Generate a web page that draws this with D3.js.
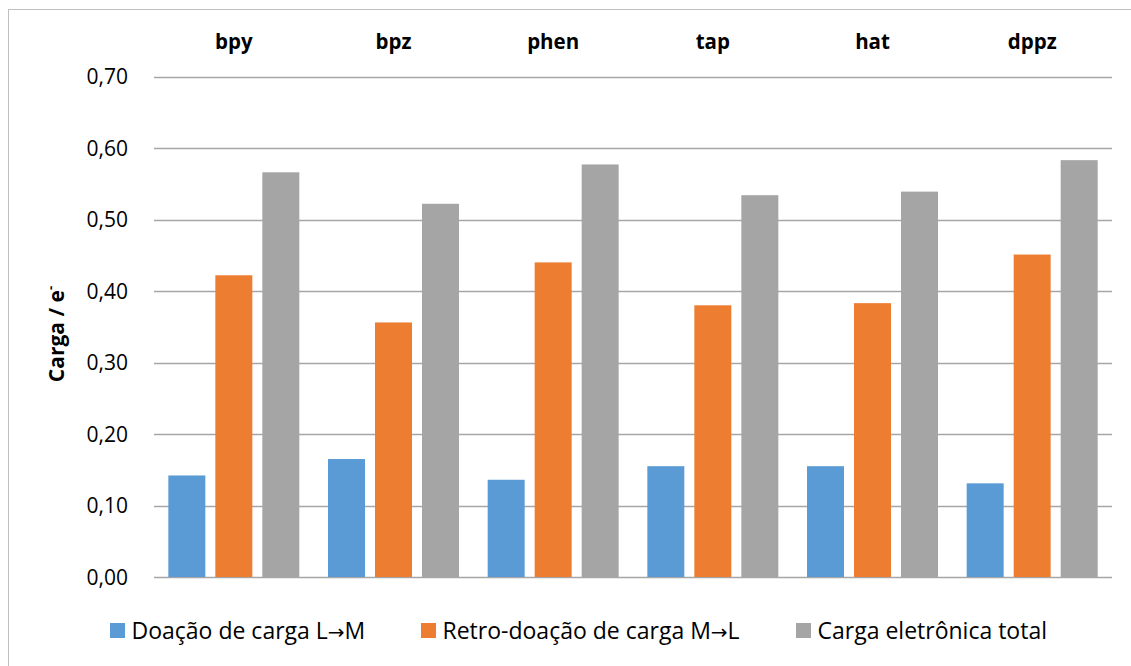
<!DOCTYPE html>
<html><head><meta charset="utf-8">
<script src="https://cdn.jsdelivr.net/npm/d3@7"></script>
<style>
html,body{margin:0;padding:0;background:#fff;}
svg{display:block;font-family:"Open Sans",sans-serif;}
</style></head>
<body><svg id="c" width="1131" height="666"></svg>
<script>
const categories = ["bpy","bpz","phen","tap","hat","dppz"];
const seriesNames = ["Doação de carga L→M","Retro-doação de carga M→L","Carga eletrônica total"];
const doacao = [0.142,0.165,0.136,0.155,0.155,0.131];
const retro = [0.422,0.356,0.440,0.380,0.383,0.451];
const total = [0.566,0.522,0.577,0.534,0.539,0.583];
const colors = ["#5b9bd5","#ed7d31","#a5a5a5"];
const yTicks = [0,0.1,0.2,0.3,0.4,0.5,0.6,0.7];

(function(){
const FONT = "'Open Sans',sans-serif";
const seriesVals = [doacao, retro, total];
const svg = d3.select("#c");
svg.append("rect").attr("x",8.5).attr("y",9.5).attr("width",1130).attr("height",670)
  .attr("fill","none").attr("stroke","#bfbfbf").attr("stroke-width",1);

const pL=154, pR=1112, pT=76.5, pB=577;
const x0 = d3.scaleBand().domain(categories).range([pL,pR]).padding(0);
const x1 = d3.scaleBand().domain(d3.range(3)).range([0,x0.bandwidth()]).paddingInner(0.213).paddingOuter(0.305);
const y = d3.scaleLinear().domain([0,0.7]).range([pB,pT]);
const fmt = d => d.toFixed(2).replace(".",",");

svg.append("g").selectAll("line").data(yTicks).join("line")
  .attr("x1",pL).attr("x2",pR)
  .attr("y1",d=>Math.round(y(d))+0.5).attr("y2",d=>Math.round(y(d))+0.5)
  .attr("stroke","#a6a6a6").attr("stroke-width",1.3);

const yAxis = svg.append("g").attr("transform",`translate(128,0)`)
  .call(d3.axisLeft(y).tickValues(yTicks).tickFormat(fmt).tickSize(0).tickPadding(0));
yAxis.select(".domain").remove();
yAxis.selectAll("text").attr("font-size",21).attr("fill","#000").attr("font-family",FONT).attr("dy","0.34em");

const g = svg.append("g").selectAll("g").data(categories).join("g")
  .attr("transform",d=>`translate(${x0(d)},0)`);
g.selectAll("rect").data((c,i)=>seriesVals.map((s,k)=>({k,v:s[i]}))).join("rect")
  .attr("x",d=>x1(d.k)).attr("width",x1.bandwidth())
  .attr("y",d=>y(d.v)).attr("height",d=>y(0)-y(d.v))
  .attr("fill",d=>colors[d.k]);

const xAxis = svg.append("g").attr("transform",`translate(0,48.5)`)
  .call(d3.axisTop(x0).tickSize(0).tickPadding(0));
xAxis.select(".domain").remove();
xAxis.selectAll("text").attr("font-size",20.5).attr("font-weight","bold").attr("fill","#000")
  .attr("font-family",FONT);

const yt = svg.append("text").attr("transform","translate(64,334) rotate(-90)")
  .attr("text-anchor","middle").attr("font-size",21).attr("font-weight","bold").attr("font-family",FONT);
yt.append("tspan").text("Carga / e");
yt.append("tspan").attr("dy",-9).attr("font-size",13).text("-");

const legX = [110,421,796];
const lg = svg.append("g").selectAll("g").data(seriesNames).join("g")
  .attr("transform",(d,i)=>`translate(${legX[i]},623)`);
lg.append("rect").attr("width",15).attr("height",15).attr("fill",(d,i)=>colors[i]);
const lt = lg.append("text").attr("x",21.5).attr("y",15.5).attr("font-size",23).attr("fill","#000")
  .attr("font-family",FONT);
lt.each(function(d){
  const parts = d.split("→");
  const t = d3.select(this);
  parts.forEach((p,i)=>{
    if(i>0) t.append("tspan").attr("font-family","'DejaVu Sans',sans-serif").attr("font-size",20).text("→");
    t.append("tspan").text(p);
  });
});
})();
</script></body></html>
